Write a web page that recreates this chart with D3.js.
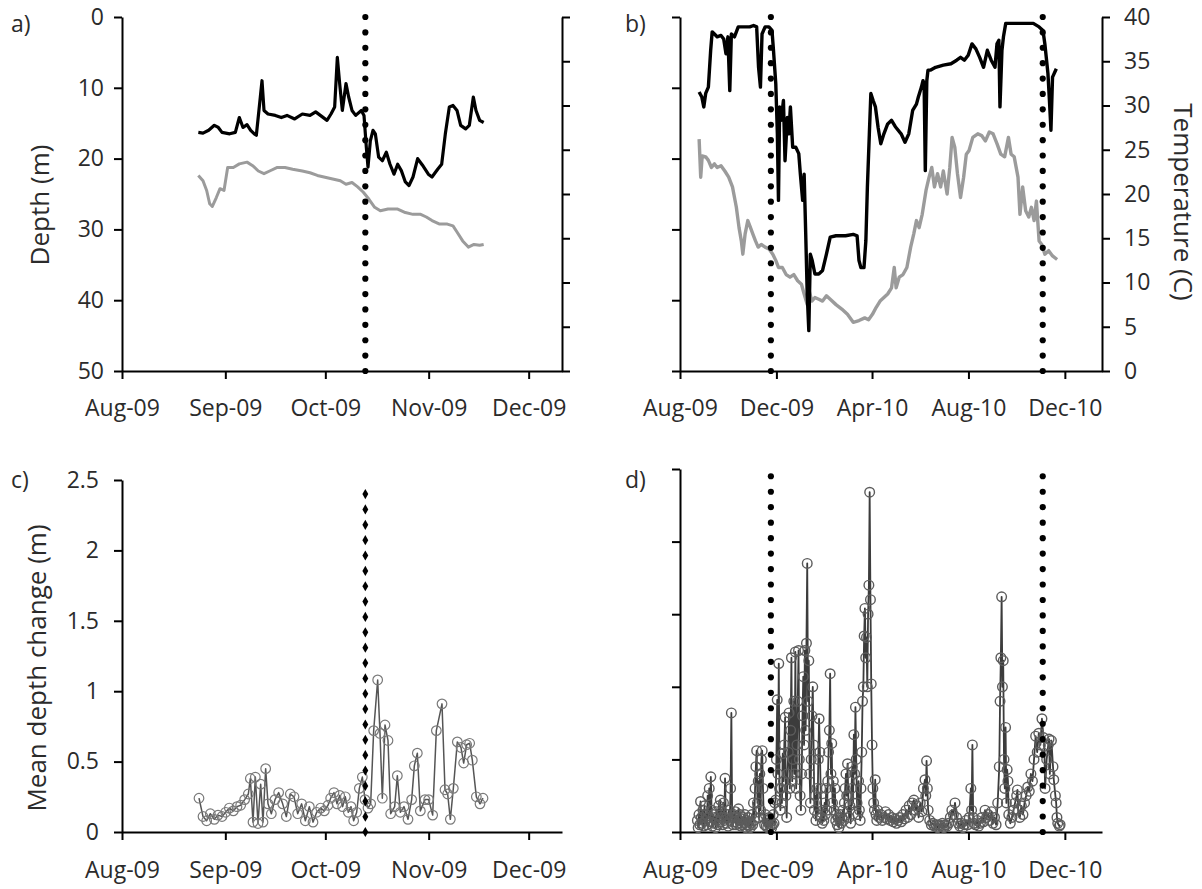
<!DOCTYPE html>
<html><head><meta charset="utf-8">
<script src="https://cdn.jsdelivr.net/npm/d3@7"></script>
<style>
body{margin:0;background:#fff;}
svg text{font-family:"Open Sans",sans-serif;}
</style></head><body>
<svg id="chart" width="1202" height="889"></svg>
<script>
// ---------- DATA ----------
const startDate = "2009-08-01";
const endA = "2009-12-11";
const endB = "2011-01-17";
const monthTicksA = ["2009-08-01","2009-09-01","2009-10-01","2009-11-01","2009-12-01"];
const monthTicksB = ["2009-08-01","2009-12-01","2010-04-01","2010-08-01","2010-12-01"];
const depthTicks = [0,10,20,30,40,50];
const tempTicks = [0,5,10,15,20,25,30,35,40];
const changeTicks = [0,0.5,1,1.5,2,2.5];
const eventsA = ["2009-10-13"];
const eventsB = ["2009-11-24","2010-11-03"];
const panelLabels = ["a)","b)","c)","d)"];

// [days since startDate, depth (m)]
const depthA = [[22.9,16.3],[24.3,16.4],[26,16.0],[27.7,15.3],[28.9,15.6],[30,16.3],[32.3,16.5],[34,16.3],[35.2,14.2],[36.3,15.6],[37.5,15.2],[38.6,16.0],[39.7,16.5],[40.3,16.7],[41.5,11.3],[42,9.0],[42.6,13.2],[43.8,13.7],[46,13.9],[47.8,14.2],[49.5,13.9],[51.8,14.4],[54.1,13.7],[56.4,13.9],[58.1,13.4],[59.8,14.0],[61.5,14.6],[62.7,13.7],[63.8,12.7],[64.6,5.7],[65.3,9.4],[66.1,13.2],[67.2,9.4],[68,11.3],[69,13.2],[70.1,13.9],[71.8,13.2],[72.6,13.9],[73.3,18.4],[73.8,21.2],[74.5,17.5],[75.3,16.0],[76,16.5],[77,19.8],[78.1,20.3],[79.3,19.1],[80.4,20.8],[81.6,22.2],[82.7,20.8],[83.8,21.7],[85,23.3],[86.1,23.8],[87.3,22.6],[88.7,20.0],[90.1,20.9],[91.9,22.2],[93,22.6],[94.7,21.5],[95.9,20.8],[97,16.5],[98.2,12.7],[99.3,12.5],[100.5,13.2],[101.6,15.3],[103.1,15.8],[104.2,15.3],[105.4,11.3],[106.2,13.2],[107.3,14.6],[108.5,14.9]];
// [days since startDate, temperature (C)]
const tempA = [[22.9,22.1],[24.3,21.5],[25.4,20.4],[26.3,18.9],[27.1,18.6],[28.3,19.6],[29.4,20.6],[30.6,20.4],[31.7,23.0],[33.4,23.0],[35.2,23.4],[37.5,23.6],[39.2,23.2],[40.9,22.6],[42.6,22.3],[44.3,22.6],[46.6,23.0],[48.9,23.0],[51.2,22.8],[54.1,22.6],[56.4,22.4],[58.6,22.1],[60.9,21.9],[63.2,21.7],[65.5,21.5],[67.2,21.1],[69,21.3],[70.7,20.8],[72.4,20.2],[74.1,19.4],[75.8,18.5],[77.5,18.1],[79.8,18.3],[82.7,18.3],[85,17.9],[87.3,17.7],[89.6,17.7],[91.3,17.4],[93,17.0],[95.3,16.6],[97.6,16.6],[99.3,16.4],[100.5,15.7],[102.2,14.7],[103.9,14.0],[105.6,14.3],[107.3,14.2],[108.5,14.3]];
const depthB = [[24.2,10.6],[27.6,11.3],[30.1,12.7],[32.5,10.8],[35.9,9.9],[38.8,4.7],[40.7,2.1],[43.6,2.4],[47,2.8],[51.9,2.6],[55.3,3.1],[58.2,5.2],[60.6,2.8],[63,10.4],[65,2.4],[68.9,2.8],[73.7,1.4],[81,1.4],[88.3,1.4],[93.1,1.2],[97,1.4],[99.4,7.1],[101.8,9.9],[103.8,2.4],[107.7,1.4],[112.5,1.4],[116.4,1.9],[118.3,4.7],[121.2,9.4],[123.2,16.5],[124.6,25.9],[126.1,12.7],[128,14.6],[130.9,11.8],[132.9,20.3],[135.8,14.2],[137.7,16.5],[139.7,12.7],[142.6,18.4],[146.5,18.4],[150.3,19.3],[152.3,22.2],[155.2,25.9],[157.1,22.2],[159.1,30.7],[161,39.2],[163,44.3],[164.9,33.5],[167.3,34.4],[170.7,36.3],[175.6,36.3],[180.4,35.8],[185.3,33.5],[190.1,31.1],[197.4,30.9],[209.5,30.9],[219.2,30.7],[224.1,30.9],[226.5,34.4],[228.9,35.4],[232.8,35.4],[235.2,31.6],[237.1,24.1],[239.6,16.5],[241.5,10.8],[244.4,11.8],[247.3,12.7],[250.7,15.6],[254.1,17.9],[258,16.5],[262.8,15.1],[267.7,14.6],[272.5,15.5],[279.8,16.5],[284.7,17.7],[289.5,16.5],[294.4,13.2],[299.2,12.3],[301.6,11.3],[305.5,9.9],[307.5,9.0],[308.9,9.4],[310.4,21.7],[312.3,9.0],[313.8,7.5],[317.2,7.5],[323.5,7.1],[333.2,6.8],[342.9,6.6],[350.1,6.1],[355,5.7],[359.8,6.1],[364.7,5.4],[369.5,3.8],[374.4,4.5],[379.2,5.7],[384.1,7.1],[388.9,4.7],[393.8,6.1],[398.6,7.1],[401.1,3.8],[403.5,3.3],[404.9,12.7],[407.4,4.7],[409.3,2.8],[412.2,0.9],[418,0.9],[427.7,0.9],[437.4,0.9],[447.1,0.9],[454.4,1.4],[459.3,1.9],[461.7,3.8],[465.6,8.0],[467.5,11.8],[469.4,16.0],[471.4,8.5],[476.2,7.3]];
const tempB = [[24.2,26.2],[26.2,21.9],[28.1,24.3],[32.5,24.2],[35.9,23.8],[39.8,23.0],[43.6,23.4],[47,23.0],[51.9,23.2],[56.7,22.6],[61.6,21.9],[66.4,20.8],[71.3,18.5],[74.7,16.2],[77.6,14.7],[79.5,13.2],[82.4,15.5],[85.8,17.0],[89.2,16.2],[92.1,15.5],[95.5,14.7],[98.9,14.0],[102.8,14.3],[107.7,14.0],[112.5,13.8],[117.4,13.2],[121.2,12.5],[124.6,11.7],[129.5,11.7],[134.3,10.9],[139.2,10.6],[144,10.9],[148.9,10.2],[153.7,9.8],[157.1,8.7],[161,7.5],[163.4,9.1],[166.8,7.9],[170.7,8.3],[175.6,8.1],[180.4,7.9],[185.3,8.5],[190.1,8.1],[197.4,7.5],[204.7,7.0],[211.9,6.4],[219.2,5.5],[226.5,5.7],[233.8,6.0],[238.6,5.8],[243.5,6.4],[248.3,7.2],[253.2,7.9],[258,8.3],[262.8,8.7],[267.7,9.4],[271.1,11.7],[273.5,9.4],[277.4,10.6],[282.2,10.9],[287.1,11.7],[291.9,14.0],[295.8,15.5],[299.2,17.0],[302.6,16.2],[306.5,17.7],[311.3,20.4],[315.2,21.9],[318.6,23.0],[322,20.8],[325.9,22.3],[329.8,20.8],[333.2,22.6],[338,20.0],[341.4,23.0],[344.3,26.4],[347.7,25.3],[351.1,22.3],[355,19.6],[358.9,21.9],[362.3,24.5],[365.7,24.9],[370.5,26.4],[376.8,26.8],[381.7,26.6],[386.5,26.0],[391.4,27.0],[396.2,26.8],[401.1,25.7],[405.9,24.5],[410.8,24.2],[415.6,26.4],[419,24.5],[422.9,24.2],[427.7,21.9],[430.2,17.7],[433.6,20.8],[437.4,18.1],[441.3,17.4],[444.7,18.5],[448.1,17.0],[451,19.2],[454.4,14.7],[457.8,14.3],[461.7,13.2],[466.5,13.6],[471.4,13.0],[477.2,12.6]];
// [days since startDate, mean depth change (m)]
const changeC = [[23.1,0.24],[24.3,0.11],[25.4,0.08],[26.5,0.13],[27.7,0.09],[28.8,0.12],[30,0.11],[31.1,0.14],[32.2,0.17],[33.4,0.15],[34.5,0.18],[35.6,0.19],[36.8,0.23],[37.9,0.27],[38.5,0.38],[39.3,0.07],[40,0.39],[40.8,0.06],[41.6,0.34],[42.3,0.07],[43.1,0.45],[43.8,0.20],[44.8,0.13],[45.9,0.23],[47,0.28],[48.2,0.20],[49.3,0.11],[50.5,0.27],[51.6,0.25],[52.7,0.13],[53.9,0.20],[55,0.08],[56.2,0.18],[57.3,0.07],[58.4,0.14],[59.6,0.17],[60.7,0.15],[61.8,0.19],[62.6,0.24],[63.6,0.28],[64.5,0.20],[65.3,0.26],[66.2,0.18],[67,0.25],[67.9,0.14],[68.7,0.18],[69.5,0.08],[70.4,0.14],[71.2,0.31],[72.1,0.39],[72.9,0.23],[73.8,0.17],[74.6,0.20],[75.5,0.72],[76.7,1.08],[77.4,0.70],[78.1,0.24],[78.9,0.76],[79.8,0.65],[80.6,0.13],[81.8,0.18],[82.6,0.40],[83.5,0.14],[84.6,0.18],[85.8,0.09],[86.9,0.23],[87.7,0.47],[88.6,0.56],[89.5,0.15],[90.9,0.23],[92,0.23],[93.2,0.12],[94.3,0.72],[96,0.91],[96.9,0.30],[97.7,0.27],[98.5,0.09],[99.4,0.31],[100.6,0.64],[101.7,0.60],[102.5,0.49],[103.4,0.62],[104.3,0.63],[105.1,0.51],[106.3,0.25],[107.4,0.20],[108.3,0.24]];
const changeD = [[22,0.08],[23,0.03],[24,0.12],[25,0.05],[26,0.21],[27,0.1],[28,0.06],[29,0.15],[30,0.04],[31,0.18],[32,0.08],[33,0.12],[34,0.05],[35,0.25],[36,0.1],[37,0.3],[38,0.07],[39,0.38],[40,0.15],[41,0.04],[42,0.12],[43,0.06],[44,0.1],[45,0.03],[46,0.14],[47,0.08],[48,0.05],[49,0.18],[50,0.07],[51,0.22],[52,0.1],[53,0.14],[54,0.05],[55,0.2],[56,0.08],[57,0.37],[58,0.1],[59,0.06],[60,0.12],[61,0.04],[62,0.15],[63,0.08],[64,0.3],[65,0.82],[66,0.1],[67,0.05],[68,0.12],[69,0.07],[70,0.14],[71,0.05],[72,0.1],[73,0.06],[74,0.16],[75,0.08],[76,0.12],[77,0.04],[78,0.09],[79,0.05],[80,0.1],[81,0.06],[82,0.12],[83,0.03],[84,0.08],[85,0.05],[86,0.1],[87,0.04],[88,0.07],[89,0.03],[90,0.06],[91,0.12],[92,0.05],[93,0.2],[94,0.08],[95,0.3],[96,0.45],[97,0.56],[98,0.2],[99,0.35],[100,0.1],[101,0.4],[102,0.15],[103,0.5],[104,0.56],[105,0.3],[106,0.1],[107,0.05],[108,0.12],[109,0.04],[110,0.08],[111,0.03],[112,0.06],[113,0.1],[114,0.04],[115,0.07],[116,0.03],[117,0.05],[118,0.12],[119,0.06],[120,0.2],[121,0.22],[122,0.5],[123,0.91],[124,0.4],[125,1.16],[126,0.3],[127,0.15],[128,0.3],[129,0.2],[130,0.54],[131,0.35],[132,0.6],[133,0.79],[134,0.25],[135,0.1],[136,0.4],[137,0.55],[138,0.82],[139,0.3],[140,0.7],[141,1.2],[142,0.35],[143,0.5],[144,0.9],[145,0.4],[146,1.24],[147,0.3],[148,0.6],[149,0.9],[150,1.25],[151,0.5],[152,0.25],[153,0.15],[154,0.4],[155,0.8],[156,1.07],[157,0.6],[158,1.25],[159,0.7],[160,1.3],[161,1.85],[162,0.9],[163,1.18],[164,0.4],[165,0.2],[166,0.5],[167,0.8],[168,1.0],[169,0.6],[170,0.15],[171,0.25],[172,0.08],[173,0.3],[174,0.12],[175,0.5],[176,0.78],[177,0.55],[178,0.3],[179,0.1],[180,0.06],[181,0.15],[182,0.08],[183,0.2],[184,0.12],[185,0.3],[186,0.15],[187,0.35],[188,0.55],[189,0.7],[190,1.09],[191,0.4],[192,0.61],[193,0.2],[194,0.35],[195,0.15],[196,0.3],[197,0.08],[198,0.12],[199,0.05],[200,0.1],[201,0.03],[202,0.08],[203,0.12],[204,0.06],[205,0.1],[206,0.15],[207,0.08],[208,0.2],[209,0.3],[210,0.4],[211,0.25],[212,0.47],[213,0.25],[214,0.1],[215,0.18],[216,0.06],[217,0.3],[218,0.45],[219,0.2],[220,0.67],[221,0.4],[222,0.86],[223,0.5],[224,0.2],[225,0.12],[226,0.35],[227,0.15],[228,0.08],[229,0.3],[230,0.55],[231,0.9],[232,1.0],[233,1.35],[234,1.54],[235,1.2],[236,1.34],[237,1.0],[238,1.5],[239,1.7],[240,2.34],[241,1.6],[242,1.02],[243,0.6],[244,0.3],[245,0.2],[246,0.15],[247,0.36],[248,0.12],[249,0.08],[250,0.15],[252,0.1],[254,0.12],[256,0.08],[258,0.1],[260,0.14],[262,0.09],[264,0.12],[266,0.08],[268,0.1],[270,0.07],[272,0.09],[274,0.06],[276,0.08],[278,0.1],[280,0.07],[282,0.12],[284,0.09],[286,0.15],[288,0.1],[290,0.18],[292,0.12],[294,0.2],[296,0.22],[298,0.15],[300,0.18],[302,0.1],[304,0.2],[306,0.14],[308,0.3],[310,0.36],[311,0.25],[312,0.49],[313,0.3],[314,0.15],[316,0.08],[318,0.05],[320,0.06],[322,0.04],[324,0.05],[326,0.03],[328,0.05],[330,0.04],[332,0.06],[334,0.03],[336,0.05],[338,0.04],[340,0.06],[342,0.1],[344,0.15],[346,0.12],[348,0.2],[350,0.1],[352,0.06],[354,0.04],[356,0.06],[358,0.03],[360,0.05],[362,0.08],[364,0.05],[366,0.1],[368,0.3],[369,0.15],[370,0.6],[371,0.1],[372,0.06],[374,0.05],[376,0.08],[378,0.04],[380,0.06],[382,0.1],[384,0.07],[386,0.15],[388,0.1],[390,0.12],[392,0.08],[394,0.14],[396,0.06],[398,0.1],[400,0.05],[402,0.2],[404,0.45],[405,0.9],[406,1.2],[407,1.62],[408,1.0],[409,1.18],[410,0.5],[411,0.3],[412,0.72],[413,0.2],[414,0.43],[415,0.35],[416,0.12],[418,0.06],[420,0.1],[422,0.15],[424,0.2],[426,0.25],[427,0.29],[428,0.15],[430,0.1],[432,0.18],[434,0.12],[436,0.2],[438,0.25],[440,0.31],[442,0.28],[444,0.4],[446,0.35],[448,0.5],[450,0.66],[452,0.55],[454,0.68],[456,0.6],[458,0.78],[460,0.65],[461,0.59],[462,0.3],[464,0.5],[466,0.6],[467,0.64],[468,0.4],[470,0.63],[472,0.45],[473,0.36],[475,0.25],[476,0.2],[477,0.1],[478,0.06],[480,0.04],[481,0.05]];

// ---------- DRAWING ----------
const svg = d3.select("#chart");
const parse = d3.utcParse("%Y-%m-%d");
const base = parse(startDate);
const toDate = d => d3.utcMinute.offset(base, Math.round(d * 1440));
const TEXT = "#2b2b2b";

const xA = d3.scaleUtc().domain([base, parse(endA)]).range([122, 562]);
const xB = d3.scaleUtc().domain([base, parse(endB)]).range([680, 1102]);
const yDepA = d3.scaleLinear().domain([0, 50]).range([17, 371]);
const yTmpA = d3.scaleLinear().domain([0, 40]).range([371, 17]);
const yDepB = d3.scaleLinear().domain([0, 50]).range([17, 371]);
const yTmpB = d3.scaleLinear().domain([0, 40]).range([371, 17]);
const yC = d3.scaleLinear().domain([0, 2.5]).range([832, 480]);
const yD = d3.scaleLinear().domain([0, 2.5]).range([832, 469]);

function style(g, fs) {
  g.attr("font-family", "'Open Sans', sans-serif").attr("font-size", fs);
  g.select(".domain").attr("stroke", "#000").attr("stroke-width", 2);
  g.selectAll(".tick line").attr("stroke", "#000").attr("stroke-width", 2);
  g.selectAll(".tick text").attr("fill", TEXT);
  return g;
}

function xAxis(x, y, ticks, pad) {
  svg.append("g").attr("transform", `translate(0,${y})`)
    .call(d3.axisBottom(x).tickValues(ticks.map(parse)).tickFormat(d3.utcFormat("%b-%y"))
      .tickSize(8).tickSizeOuter(0).tickPadding(pad))
    .call(g => style(g, 23));
}
function yAxis(scale, xpos, ticks, side, labels, pad, fmt) {
  const ax = (side === "left" ? d3.axisLeft(scale) : d3.axisRight(scale))
    .tickValues(ticks).tickSize(8).tickSizeOuter(0).tickPadding(pad)
    .tickFormat(labels ? (fmt || (d => d)) : () => "");
  svg.append("g").attr("transform", `translate(${xpos},0)`).call(ax).call(g => style(g, 23));
}

// Panel a
yAxis(yDepA, 122, depthTicks, "left", true, 10);
yAxis(yTmpA, 562, tempTicks, "right", false, 8);
xAxis(xA, 371, monthTicksA, 21);
// Panel b
yAxis(yDepB, 680, depthTicks, "left", false, 8);
yAxis(yTmpB, 1102, tempTicks, "right", true, 14);
xAxis(xB, 371, monthTicksB, 21);
// Panel c
yAxis(yC, 122, changeTicks, "left", true, 15, d3.format("~g"));
xAxis(xA, 832, monthTicksA, 22);
// Panel d
yAxis(yD, 680, changeTicks, "left", false, 8);
xAxis(xB, 832, monthTicksB, 22);

function drawLine(data, x, y, color, w) {
  svg.append("path").datum(data)
    .attr("fill", "none").attr("stroke", color).attr("stroke-width", w)
    .attr("stroke-linejoin", "round")
    .attr("d", d3.line().x(d => x(toDate(d[0]))).y(d => y(d[1])));
}
drawLine(tempA, xA, yTmpA, "#9b9b9b", 3);
drawLine(depthA, xA, yDepA, "#000", 3.2);
drawLine(tempB, xB, yTmpB, "#9b9b9b", 3.4);
drawLine(depthB, xB, yDepB, "#000", 3.4);

function drawMarkers(data, x, y, lineColor, circColor, lw, cw) {
  drawLine(data, x, y, lineColor, lw);
  svg.append("g").selectAll("circle").data(data).join("circle")
    .attr("cx", d => x(toDate(d[0]))).attr("cy", d => y(d[1])).attr("r", 4.8)
    .attr("fill", "none").attr("stroke", circColor).attr("stroke-width", cw);
}
drawMarkers(changeC, xA, yC, "#555", "#7a7a7a", 1.5, 1.2);
drawMarkers(changeD, xB, yD, "#3c3c3c", "#5c5c5c", 1.8, 1.4);

function eventDots(dateStr, x, y, vTop, vBot, shape) {
  const xp = x(parse(dateStr));
  const y0 = y(vTop), y1 = y(vBot);
  const n = Math.round(Math.abs(y1 - y0) / 15.3);
  const step = (y1 - y0) / n;
  const sym = d3.symbol().type(shape === "diamond" ? d3.symbolDiamond : d3.symbolCircle).size(30);
  svg.append("g").selectAll("path").data(d3.range(n + 1)).join("path")
    .attr("transform", i => `translate(${xp},${y0 + i * step})`)
    .attr("d", sym).attr("fill", "#000");
}
eventsA.forEach(e => eventDots(e, xA, yDepA, 0, 50, "circle"));
eventsB.forEach(e => eventDots(e, xB, yDepB, 0, 50, "circle"));
eventsA.forEach(e => eventDots(e, xA, yC, 2.4, 0, "diamond"));
eventsB.forEach(e => eventDots(e, xB, yD, 2.45, 0, "circle"));

// Titles
svg.append("text").attr("transform", "translate(49,205) rotate(-90)")
  .attr("text-anchor", "middle").attr("font-size", 26).attr("fill", TEXT).text("Depth (m)");
svg.append("text").attr("transform", "translate(1174,202) rotate(90)")
  .attr("text-anchor", "middle").attr("font-size", 26).attr("fill", TEXT).text("Temperature (C)");
svg.append("text").attr("transform", "translate(46,668) rotate(-90)")
  .attr("text-anchor", "middle").attr("font-size", 26).attr("fill", TEXT).text("Mean depth change (m)");

const labelPos = [[11, 32], [625, 32], [11, 488], [625, 488]];
panelLabels.forEach((t, i) => {
  svg.append("text").attr("x", labelPos[i][0]).attr("y", labelPos[i][1])
    .attr("font-size", 23).attr("fill", TEXT).text(t);
});
</script>
</body></html>
